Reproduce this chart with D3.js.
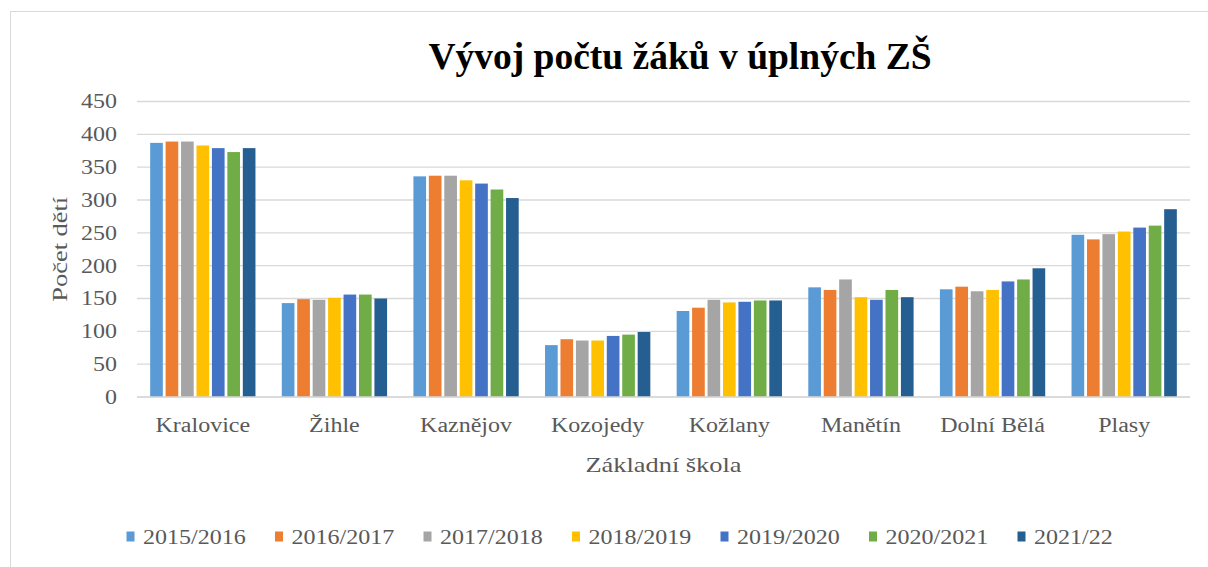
<!DOCTYPE html>
<head>
  <meta charset="utf-8">
  <script src="https://d3js.org/d3.v7.min.js"></script>
  <style>
    body { margin:0; background:white; }
    svg { display:block; background:white; }
    svg text { font-family: "Liberation Serif", "Times New Roman", serif !important; }
  </style>
</head>

<body>
  <script>
    var width = 1208;
    var height = 567;

    // data
    var schools = ["Kralovice", "Žihle", "Kaznějov", "Kozojedy", "Kožlany", "Manětín", "Dolní Bělá", "Plasy"];
    var years = ["2015/2016", "2016/2017", "2017/2018", "2018/2019", "2019/2020", "2020/2021", "2021/22"];
    var colors = ["#5B9BD5", "#ED7D31", "#A5A5A5", "#FFC000", "#4472C4", "#70AD47", "#255E91"];

    var y2015 = [387, 143, 336, 79, 131, 167, 164, 247];
    var y2016 = [389, 149, 337, 88, 136, 163, 168, 240];
    var y2017 = [389, 148, 337, 86, 148, 179, 161, 248];
    var y2018 = [383, 151, 330, 86, 144, 152, 163, 252];
    var y2019 = [379, 156, 325, 93, 145, 148, 176, 258];
    var y2020 = [373, 156, 316, 95, 147, 163, 179, 261];
    var y2021 = [379, 150, 303, 99, 147, 152, 196, 286];
    var series = [y2015, y2016, y2017, y2018, y2019, y2020, y2021];

    var yTicks = [0, 50, 100, 150, 200, 250, 300, 350, 400, 450];

    var plot = { left: 137, right: 1190, top: 101.5, bottom: 397 };

    // the original text is a bit wider than plain Times
    var widen = 1.2;
    function stretch(sel){
      sel.each(function(){
        var w = this.getComputedTextLength();
        d3.select(this)
          .attr("textLength", w * widen)
          .attr("lengthAdjust", "spacingAndGlyphs");
      });
    }

    var svg = d3.select("body").append("svg")
      .attr("width", width)
      .attr("height", height);

    // chart frame
    svg.append("rect")
      .attr("x", 10.5)
      .attr("y", 11.5)
      .attr("width", 1210)
      .attr("height", 600)
      .attr("fill", "white")
      .attr("stroke", "#d9d9d9")
      .attr("stroke-width", 1);

    var x0 = d3.scaleBand()
      .domain(schools)
      .range([plot.left, plot.right])
      .paddingInner(0.2)
      .paddingOuter(0.1);

    var x1 = d3.scaleBand()
      .domain(years)
      .range([0, x0.bandwidth()])
      .paddingInner(0.18);

    var y = d3.scaleLinear()
      .domain([0, 450])
      .range([plot.bottom, plot.top]);

    // gridlines
    svg.append("g")
      .selectAll("line")
      .data(yTicks)
      .enter()
      .append("line")
      .attr("x1", plot.left)
      .attr("x2", plot.right)
      .attr("y1", function(d){ return y(d); })
      .attr("y2", function(d){ return y(d); })
      .attr("stroke", "#d9d9d9")
      .attr("stroke-width", 1.3);

    // y axis labels
    var yAxis = d3.axisLeft(y).tickValues(yTicks).tickSize(0).tickPadding(20);
    var yg = svg.append("g")
      .attr("transform", "translate(" + plot.left + ",0)")
      .call(yAxis)
      .attr("font-family", null)
      .attr("font-size", null);
    yg.select(".domain").remove();
    yg.selectAll("text")
      .attr("font-size", "20px")
      .attr("fill", "#595959")
      .call(stretch);

    // bars
    var groups = svg.append("g")
      .selectAll("g")
      .data(schools)
      .enter()
      .append("g")
      .attr("transform", function(d){ return "translate(" + x0(d) + ",0)"; });

    groups.selectAll("rect")
      .data(function(d, i){
        return years.map(function(yr, j){ return { year: yr, value: series[j][i], c: colors[j] }; });
      })
      .enter()
      .append("rect")
      .attr("x", function(d){ return x1(d.year); })
      .attr("y", function(d){ return y(d.value); })
      .attr("width", x1.bandwidth())
      .attr("height", function(d){ return y(0) - y(d.value); })
      .attr("fill", function(d){ return d.c; });

    // baseline on top of bars
    svg.append("line")
      .attr("x1", plot.left)
      .attr("x2", plot.right)
      .attr("y1", y(0))
      .attr("y2", y(0))
      .attr("stroke", "#d9d9d9")
      .attr("stroke-width", 1.3);

    // x axis labels
    var xAxis = d3.axisBottom(x0).tickSize(0).tickPadding(21);
    var xg = svg.append("g")
      .attr("transform", "translate(0," + plot.bottom + ")")
      .call(xAxis)
      .attr("font-family", null)
      .attr("font-size", null);
    xg.select(".domain").remove();
    xg.selectAll("text")
      .attr("font-size", "20px")
      .attr("fill", "#595959")
      .call(stretch);

    // titles
    svg.append("text")
      .attr("x", 680)
      .attr("y", 69)
      .attr("text-anchor", "middle")
      .attr("font-size", "37.5px")
      .attr("font-weight", "bold")
      .attr("fill", "black")
      .text("Vývoj počtu žáků v úplných ZŠ");

    svg.append("text")
      .attr("x", (plot.left + plot.right) / 2)
      .attr("y", 472)
      .attr("text-anchor", "middle")
      .attr("font-size", "22px")
      .attr("fill", "#595959")
      .text("Základní škola")
      .call(stretch);

    svg.append("text")
      .attr("transform", "translate(67," + ((plot.top + plot.bottom) / 2) + ") rotate(-90)")
      .attr("text-anchor", "middle")
      .attr("font-size", "22px")
      .attr("fill", "#595959")
      .text("Počet dětí")
      .call(stretch);

    // legend
    var legend = svg.append("g")
      .selectAll("g")
      .data(years)
      .enter()
      .append("g")
      .attr("transform", function(d, i){ return "translate(" + (126.5 + i * 148.5) + ",537)"; });

    legend.append("rect")
      .attr("x", 0)
      .attr("y", -5.5)
      .attr("width", 8)
      .attr("height", 10)
      .attr("fill", function(d, i){ return colors[i]; });

    legend.append("text")
      .attr("x", 16.5)
      .attr("y", 6.5)
      .attr("font-size", "20px")
      .attr("fill", "#595959")
      .text(function(d){ return d; })
      .call(stretch);
  </script>
</body>
